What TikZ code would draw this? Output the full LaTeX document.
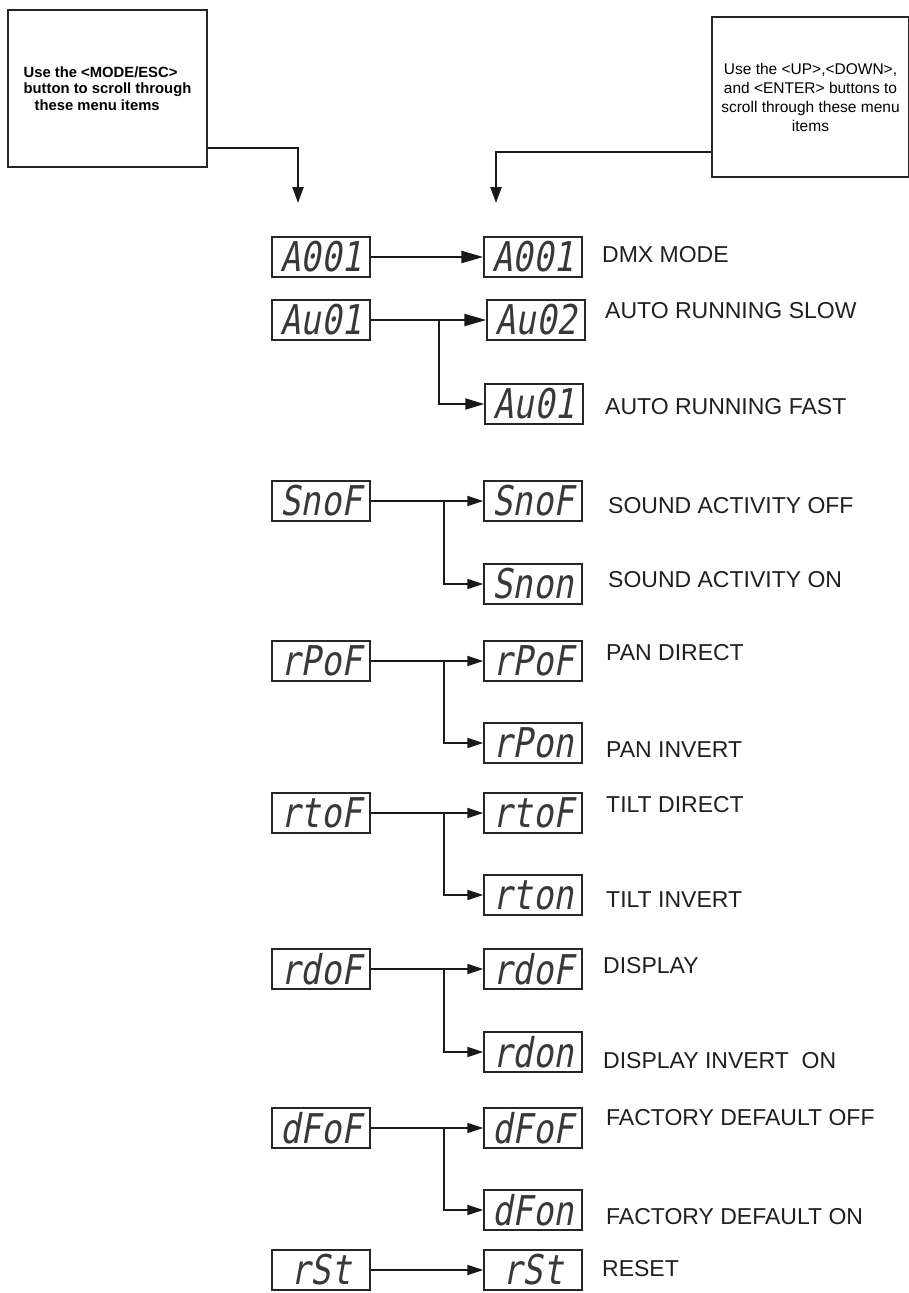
\documentclass[tikz,border=0pt]{standalone}
\usepackage{fontspec}
\setmainfont{Liberation Sans}
\newfontfamily\segfont{DejaVu Sans Mono}[FakeSlant=0.18,FakeStretch=0.82]
\usetikzlibrary{arrows.meta}
\begin{document}
\begin{tikzpicture}[x=1pt,y=-1pt,
  disp/.style={draw=black!85, line width=1.4pt, minimum width=98pt, minimum height=40pt, inner sep=0pt, font=\segfont\fontsize{41}{41}\selectfont, text=black!78},
  lab/.style={anchor=base west, inner sep=0pt, font=\fontsize{23}{26}\selectfont, text=black!88},
  infobox/.style={draw=black!85, line width=1.4pt, inner sep=0pt},
  conn/.style={line width=2pt, draw=black!90, -{Triangle[length=16pt,width=10pt]}},
  bigconn/.style={line width=2.2pt, draw=black!90, -{Triangle[length=22pt,width=12pt]}},
  topconn/.style={line width=2.3pt, draw=black!90, -{Triangle[length=16pt,width=11pt]}}
]
\useasboundingbox (0,0) rectangle (909,1293);

% instruction boxes
\node[infobox, minimum width=199pt, minimum height=157pt, align=left,
      font=\bfseries\fontsize{14.8}{16.5}\selectfont] (lbox) at (107.5,88.5)
  {Use the <MODE/ESC>\\button to scroll through\\\hspace*{11pt}these menu items};
\node[infobox, minimum width=197pt, minimum height=160pt, align=center,
      font=\fontsize{15.5}{19}\selectfont] (rbox) at (810.5,97)
  {Use the <UP>,<DOWN>,\\and <ENTER> buttons to\\scroll through these menu\\items};

\coordinate (ly) at (0,148);
\coordinate (tl) at (298,203);
\coordinate (ry) at (0,152);
\coordinate (tr) at (496,203);
\draw[topconn] (lbox.east |- ly) -| (tl);
\draw[topconn] (rbox.west |- ry) -| (tr);

% left column
\node[disp] (L1) at (321,257) {A001};
\node[disp] (L2) at (321,320) {Au01};
\node[disp] (L3) at (321,501) {SnoF};
\node[disp] (L4) at (321,661) {rPoF};
\node[disp] (L5) at (321,813) {rtoF};
\node[disp] (L6) at (321,969) {rdoF};
\node[disp] (L7) at (321,1128) {dFoF};
\node[disp] (L8) at (321,1270) {rSt~};

% right column
\node[disp] (R1) at (533,257) {A001};
\node[disp] (R2a) at (536,320) {Au02};
\node[disp] (R2b) at (534,404) {Au01};
\node[disp] (R3a) at (533,501) {SnoF};
\node[disp] (R3b) at (533,584) {Snon};
\node[disp] (R4a) at (533,661) {rPoF};
\node[disp] (R4b) at (533,743) {rPon};
\node[disp] (R5a) at (533,813) {rtoF};
\node[disp] (R5b) at (533,895) {rton};
\node[disp] (R6a) at (533,969) {rdoF};
\node[disp] (R6b) at (533,1052) {rdon};
\node[disp] (R7a) at (533,1128) {dFoF};
\node[disp] (R7b) at (533,1210) {dFon};
\node[disp] (R8) at (533,1270) {rSt~};

% branch points
\coordinate (b2) at (439,320);
\coordinate (b3) at (444,501);
\coordinate (b4) at (444,661);
\coordinate (b5) at (444,813);
\coordinate (b6) at (444,969);
\coordinate (b7) at (444,1128);

% connectors
\draw[bigconn] (L1) -- (R1);
\draw[bigconn] (L2) -- (R2a);
\draw[conn, -{Triangle[length=19pt,width=11pt]}] (b2) |- (R2b.west);
\draw[conn] (L3) -- (R3a);
\draw[conn] (b3) |- (R3b.west);
\draw[conn] (L4) -- (R4a);
\draw[conn] (b4) |- (R4b.west);
\draw[conn] (L5) -- (R5a);
\draw[conn] (b5) |- (R5b.west);
\draw[conn] (L6) -- (R6a);
\draw[conn] (b6) |- (R6b.west);
\draw[conn] (L7) -- (R7a);
\draw[conn] (b7) |- (R7b.west);
\draw[conn] (L8) -- (R8);

% labels
\node[lab] (t1) at (602,262) {DMX MODE};
\node[lab] (t2) at (605,318) {AUTO RUNNING SLOW};
\node[lab] (t3) at (605,414) {AUTO RUNNING FAST};
\node[lab] (t4) at (608,513) {SOUND ACTIVITY OFF};
\node[lab] (t5) at (608,587) {SOUND ACTIVITY ON};
\node[lab] (t6) at (606,660) {PAN DIRECT};
\node[lab] (t7) at (606,757) {PAN INVERT};
\node[lab] (t8) at (606,812) {TILT DIRECT};
\node[lab] (t9) at (606,907) {TILT INVERT};
\node[lab] (t10) at (603,973) {DISPLAY};
\node[lab] (t11) at (603,1068) {DISPLAY INVERT\ \ ON};
\node[lab] (t12) at (606,1125) {FACTORY DEFAULT OFF};
\node[lab] (t13) at (606,1224) {FACTORY DEFAULT ON};
\node[lab] (t14) at (602,1276) {RESET};
\end{tikzpicture}
\end{document}
